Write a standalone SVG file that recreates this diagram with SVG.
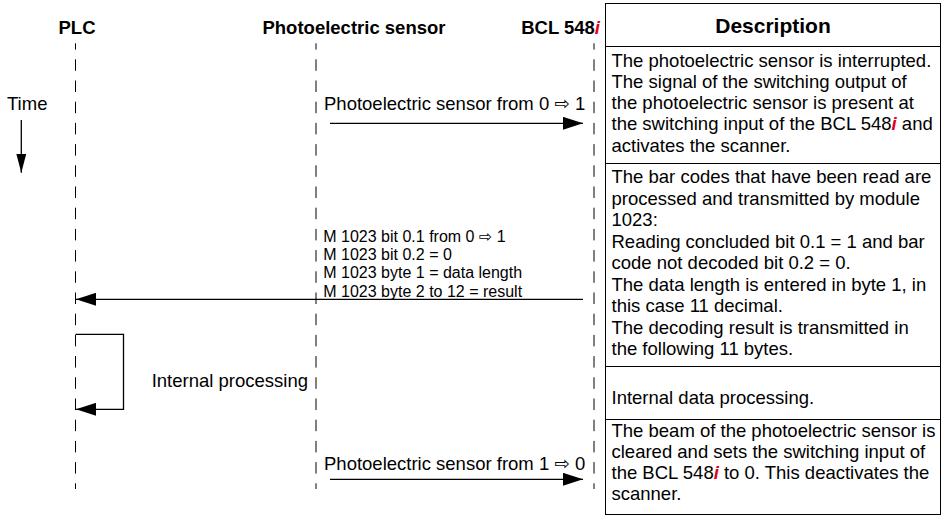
<svg xmlns="http://www.w3.org/2000/svg" width="941" height="516" viewBox="0 0 941 516">
<style>
text{font-family:"Liberation Sans",Arial,"DejaVu Sans",sans-serif;fill:#000}
.h{font-size:18.5px;font-weight:bold}
.t{font-size:18.5px}
.s{font-size:16px}
.d{font-size:18.5px}
.ri{fill:#e2001a;font-weight:bold;font-style:italic}
.life{stroke:#000;stroke-width:1;stroke-dasharray:11.5 9.7;stroke-dashoffset:5.2;fill:none}
.msg{stroke:#000;stroke-width:1.3;fill:none}
.tbl{stroke:#000;stroke-width:1;fill:none}
</style>
<defs>
<marker id="ah" markerUnits="userSpaceOnUse" markerWidth="20" markerHeight="13" refX="20" refY="6.5" orient="auto">
<path d="M0,0 L20,6.5 L0,13 z" fill="#000"/>
</marker>
<marker id="ahT" markerUnits="userSpaceOnUse" markerWidth="19" markerHeight="10" refX="19" refY="5" orient="auto">
<path d="M0,0 L19,5 L0,10 z" fill="#000"/>
</marker>
</defs>

<g id="plc">
<text class="h" x="77" y="34" text-anchor="middle">PLC</text>
<line class="life" x1="75.5" y1="43.3" x2="75.5" y2="489"/>
</g>
<g id="sensor">
<text class="h" x="354" y="34" text-anchor="middle">Photoelectric sensor</text>
<line class="life" x1="316" y1="43.3" x2="316" y2="489"/>
</g>
<g id="bcl">
<text class="h" x="600" y="34" text-anchor="end">BCL 548<tspan class="ri">i</tspan></text>
<line class="life" x1="594" y1="43.3" x2="594" y2="489"/>
</g>

<g id="time">
<text class="t" x="7" y="110">Time</text>
<line x1="21.3" y1="120" x2="21.3" y2="172.7" stroke="#000" stroke-width="1.3" marker-end="url(#ahT)"/>
</g>

<g id="connectors">
<line class="msg" x1="330" y1="123.3" x2="583" y2="123.3" marker-end="url(#ah)"/>
<line class="msg" x1="583" y1="299.3" x2="76" y2="299.3" marker-end="url(#ah)"/>
<polyline class="msg" points="75.5,334.3 123.5,334.3 123.5,409.3 76,409.3" marker-end="url(#ah)"/>
<line class="msg" x1="330" y1="479.3" x2="583" y2="479.3" marker-end="url(#ah)"/>
</g>

<g id="labels">
<text class="t" x="324" y="110">Photoelectric sensor from 0 ⇨ 1</text>
<text class="s" x="323.3" y="241.7">M 1023 bit 0.1 from 0 ⇨ 1</text>
<text class="s" x="323.3" y="260">M 1023 bit 0.2 = 0</text>
<text class="s" x="323.3" y="278.3">M 1023 byte 1 = data length</text>
<text class="s" x="323.3" y="296.7">M 1023 byte 2 to 12 = result</text>
<text class="t" x="308" y="386.7" text-anchor="end">Internal processing</text>
<text class="t" x="324" y="470">Photoelectric sensor from 1 ⇨ 0</text>
</g>

<g id="description">
<rect class="tbl" x="605.5" y="3.5" width="335" height="511"/>
<line class="tbl" x1="605.5" y1="46.5" x2="940.5" y2="46.5"/>
<line class="tbl" x1="605.5" y1="163.5" x2="940.5" y2="163.5"/>
<line class="tbl" x1="605.5" y1="366.5" x2="940.5" y2="366.5"/>
<line class="tbl" x1="605.5" y1="419.5" x2="940.5" y2="419.5"/>
<text x="773" y="33" text-anchor="middle" style="font-size:21px;font-weight:bold">Description</text>
<text class="d" x="611.5">
<tspan x="611.5" y="66.5">The photoelectric sensor is interrupted.</tspan>
<tspan x="611.5" y="87.8">The signal of the switching output of</tspan>
<tspan x="611.5" y="109.1">the photoelectric sensor is present at</tspan>
<tspan x="611.5" y="130.4">the switching input of the BCL 548<tspan class="ri">i</tspan> and</tspan>
<tspan x="611.5" y="151.7">activates the scanner.</tspan>
</text>
<text class="d" x="611.5">
<tspan x="611.5" y="183.3">The bar codes that have been read are</tspan>
<tspan x="611.5" y="204.8">processed and transmitted by module</tspan>
<tspan x="611.5" y="226.3">1023:</tspan>
<tspan x="611.5" y="247.8">Reading concluded bit 0.1 = 1 and bar</tspan>
<tspan x="611.5" y="269.3">code not decoded bit 0.2 = 0.</tspan>
<tspan x="611.5" y="290.8">The data length is entered in byte 1, in</tspan>
<tspan x="611.5" y="312.3">this case 11 decimal.</tspan>
<tspan x="611.5" y="333.8">The decoding result is transmitted in</tspan>
<tspan x="611.5" y="355.3">the following 11 bytes.</tspan>
</text>
<text class="d" x="611.5" y="404.3">Internal data processing.</text>
<text class="d" x="611.5">
<tspan x="611.5" y="436.7">The beam of the photoelectric sensor is</tspan>
<tspan x="611.5" y="457.8">cleared and sets the switching input of</tspan>
<tspan x="611.5" y="478.9">the BCL 548<tspan class="ri">i</tspan> to 0. This deactivates the</tspan>
<tspan x="611.5" y="500">scanner.</tspan>
</text>
</g>
</svg>
